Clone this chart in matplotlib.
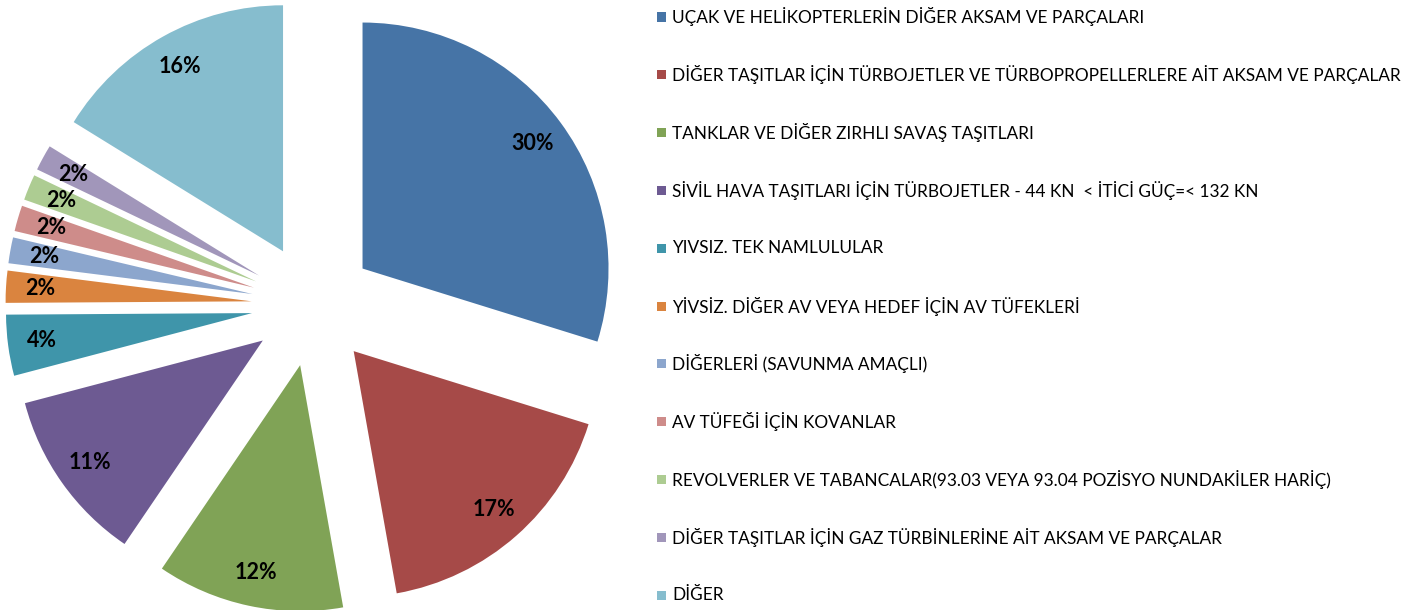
import matplotlib
matplotlib.use('Agg')
import matplotlib.pyplot as plt
from matplotlib.patches import Rectangle

# data (shares; labels show rounded values)
labels = [
    "UÇAK VE HELİKOPTERLERİN DİĞER AKSAM VE PARÇALARI",
    "DİĞER TAŞITLAR İÇİN TÜRBOJETLER VE TÜRBOPROPELLERLERE AİT AKSAM VE PARÇALAR",
    "TANKLAR VE DİĞER ZIRHLI SAVAŞ TAŞITLARI",
    "SİVİL HAVA TAŞITLARI İÇİN TÜRBOJETLER - 44 KN  < İTİCİ GÜÇ=< 132 KN",
    "YIVSIZ. TEK NAMLULULAR",
    "YİVSİZ. DİĞER AV VEYA HEDEF İÇİN AV TÜFEKLERİ",
    "DİĞERLERİ (SAVUNMA AMAÇLI)",
    "AV TÜFEĞİ İÇİN KOVANLAR",
    "REVOLVERLER VE TABANCALAR(93.03 VEYA 93.04 POZİSYO NUNDAKİLER HARİÇ)",
    "DİĞER TAŞITLAR İÇİN GAZ TÜRBİNLERİNE AİT AKSAM VE PARÇALAR",
    "DİĞER",
]
shares = [29.8, 17.4, 12.3, 11.4, 4.0, 2.1, 1.7, 1.7, 1.7, 1.7, 16.2]
colors = ['#4674A6', '#A64A48', '#80A356', '#6D5A92', '#3F95AA', '#DA843F',
          '#8CA6CD', '#CE8C8A', '#ADCC92', '#A196BA', '#86BDCE']

W, H = 1424, 610
fig = plt.figure(figsize=(W / 100, H / 100), dpi=100)

# pie axes, 1 data unit = pie radius in pixels
R = 246.0
cx, cy = 313.0, H - 305.0
ax_w = 650.0
ax = fig.add_axes([0, 0, ax_w / W, 1])

wedges, _, autotexts = ax.pie(
    shares, colors=colors, startangle=90, counterclock=False,
    explode=[0.25] * len(shares), radius=1.0,
    autopct=lambda p: '%d%%' % round(p),
    pctdistance=0.86, frame=True,
    textprops=dict(fontsize=15.5, fontweight='bold', family='Lato', color='black'),
    wedgeprops=dict(linewidth=0))
ax.set_xlim(-cx / R, (ax_w - cx) / R)
ax.set_ylim(-cy / R, (H - cy) / R)
ax.axis('off')

# legend drawn by hand to match row spacing
y0, dy = 17.0, 57.8
for i, (lab, col) in enumerate(zip(labels, colors)):
    yc = H - (y0 + i * dy)
    fig.patches.append(Rectangle((657 / W, (yc - 4.5) / H), 9 / W, 9 / H,
                                 transform=fig.transFigure, facecolor=col,
                                 edgecolor='none'))
    fig.text(672 / W, yc / H, lab, va='center', ha='left',
             fontsize=12.4, family='Lato', color='black')

fig.savefig('out.png', dpi=100)
